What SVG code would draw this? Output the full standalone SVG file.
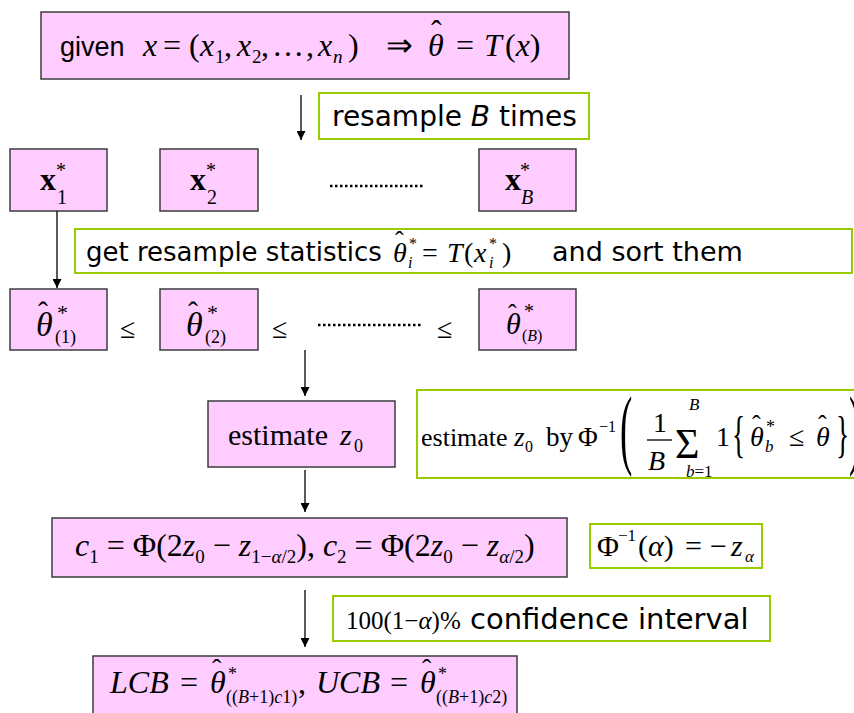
<svg xmlns="http://www.w3.org/2000/svg" width="854" height="713" viewBox="0 0 854 713">
<style>
.node{fill:#FFCCFF;stroke:#3c3c3c;stroke-width:1.5}
.note{fill:#FFFFFF;stroke:#99CC00;stroke-width:2}
.m{font-family:"Liberation Serif","Times New Roman",serif;fill:#000}
.i{font-style:italic}
.b{font-weight:bold}
.s{font-family:"DejaVu Sans",Verdana,sans-serif;fill:#000}
.a{font-family:"Liberation Sans",Arial,sans-serif;fill:#000}
.conn line{stroke:#000;stroke-width:1.3;marker-end:url(#ah)}
.dots{stroke:#000;stroke-width:2.5;stroke-dasharray:2.5 2.5}
</style>
<defs>
<marker id="ah" viewBox="0 0 10 10" refX="10" refY="5" markerWidth="10" markerHeight="9" markerUnits="userSpaceOnUse" orient="auto"><path d="M0,0 L10,5 L0,10 z" fill="#000"/></marker>
</defs>
<rect width="854" height="713" fill="#fff"/>

<g id="given">
<rect class="node" x="41" y="12" width="528" height="67"/>
<text class="a" x="60" y="56" font-size="27">given</text>
<g class="m" font-size="32">
<text class="i" x="143" y="56">x</text>
<text x="163" y="56">=</text>
<text x="189" y="56">(</text>
<text class="i" x="200" y="56">x</text>
<text x="215" y="63" font-size="19">1</text>
<text x="224" y="56">,</text>
<text class="i" x="237" y="56">x</text>
<text x="252" y="63" font-size="19">2</text>
<text x="261" y="56">,</text>
<text x="272" y="56">…</text>
<text x="306" y="56">,</text>
<text class="i" x="318" y="56">x</text>
<text class="i" x="333" y="63" font-size="19">n</text>
<text x="348" y="56">)</text>
<text x="386" y="56">⇒</text>
<text class="i" x="428" y="56">θ</text>
<text x="431" y="42">ˆ</text>
<text x="456" y="56">=</text>
<text class="i" x="484" y="56">T</text>
<text x="505" y="56">(<tspan class="i">x</tspan>)</text>
</g>
</g>

<g id="resample-note">
<rect class="note" x="319" y="93" width="270" height="46"/>
<text class="s" x="332" y="126" font-size="28">resample <tspan font-style="italic">B</tspan> times</text>
</g>

<g id="x1">
<rect class="node" x="10" y="149" width="97" height="62"/>
<text class="m b" x="40" y="190" font-size="32">x</text>
<text class="m" x="57" y="204" font-size="20">1</text>
<text class="m" x="56" y="177" font-size="20">*</text>
</g>
<g id="x2">
<rect class="node" x="160" y="149" width="98" height="62"/>
<text class="m b" x="190" y="190" font-size="32">x</text>
<text class="m" x="207" y="204" font-size="20">2</text>
<text class="m" x="206" y="177" font-size="20">*</text>
</g>
<line class="dots" x1="330" y1="186" x2="425" y2="186"/>
<g id="xB">
<rect class="node" x="479" y="149" width="97" height="62"/>
<text class="m b" x="505" y="190" font-size="32">x</text>
<text class="m i" x="521" y="204" font-size="20">B</text>
<text class="m" x="520" y="177" font-size="20">*</text>
</g>

<g id="stats-note">
<rect class="note" x="75" y="229" width="777" height="44"/>
<text class="s" x="86" y="261" font-size="26">get resample statistics</text>
<text class="m i" x="393" y="262" font-size="28">θ</text>
<text class="m" x="395" y="249" font-size="26">ˆ</text>
<text class="m i" x="408" y="268" font-size="16">i</text>
<text class="m" x="409" y="249" font-size="16">*</text>
<text class="m" x="422" y="262" font-size="28">=</text>
<text class="m i" x="447" y="262" font-size="28">T</text>
<text class="m" x="464" y="262" font-size="28">(</text>
<text class="m i" x="474" y="262" font-size="28">x</text>
<text class="m i" x="489" y="268" font-size="16">i</text>
<text class="m" x="489" y="249" font-size="16">*</text>
<text class="m" x="502" y="262" font-size="28">)</text>
<text class="s" x="552" y="261" font-size="27">and sort them</text>
</g>

<g id="theta1">
<rect class="node" x="10" y="289" width="97" height="61"/>
<text class="m i" x="36" y="336" font-size="34">θ</text>
<text class="m" x="38" y="322" font-size="30">ˆ</text>
<text class="m" x="57" y="320" font-size="22">*</text>
<text class="m" x="55" y="343" font-size="18">(1)</text>
</g>
<text class="m" x="120" y="338" font-size="28">≤</text>
<g id="theta2">
<rect class="node" x="160" y="289" width="98" height="61"/>
<text class="m i" x="186" y="336" font-size="34">θ</text>
<text class="m" x="188" y="322" font-size="30">ˆ</text>
<text class="m" x="207" y="320" font-size="22">*</text>
<text class="m" x="205" y="343" font-size="18">(2)</text>
</g>
<text class="m" x="272" y="338" font-size="28">≤</text>
<line class="dots" x1="318" y1="325" x2="423" y2="325"/>
<text class="m" x="437" y="338" font-size="28">≤</text>
<g id="thetaB">
<rect class="node" x="479" y="289" width="97" height="61"/>
<text class="m i" x="506" y="334" font-size="30">θ</text>
<text class="m" x="508" y="322" font-size="26">ˆ</text>
<text class="m" x="524" y="318" font-size="20">*</text>
<text class="m" x="522" y="341" font-size="16">(<tspan class="i">B</tspan>)</text>
</g>

<g id="estimate-z0">
<rect class="node" x="208" y="401" width="187" height="66"/>
<text class="m" x="228" y="445" font-size="30">estimate</text>
<text class="m i" x="340" y="445" font-size="30">z</text>
<text class="m" x="354" y="452" font-size="18">0</text>
</g>

<g id="z0-note">
<rect class="note" x="417" y="390" width="450" height="88"/>
<text class="m" x="421" y="446" font-size="26">estimate</text>
<text class="m i" x="514" y="446" font-size="27">z</text>
<text class="m" x="525" y="452" font-size="16">0</text>
<text class="m" x="546" y="446" font-size="27">by</text>
<text class="m" x="578" y="446" font-size="27">Φ</text>
<text class="m" x="599" y="432" font-size="16">−1</text>
<text class="m" transform="translate(620,458) scale(0.42,1)" font-size="88">(</text>
<text class="m" x="653" y="432" font-size="28">1</text>
<line x1="647" y1="440" x2="672" y2="440" stroke="#000" stroke-width="1.3"/>
<text class="m i" x="648" y="470" font-size="28">B</text>
<text class="m" x="675" y="458" font-size="42">Σ</text>
<text class="m i" x="689" y="410" font-size="17">B</text>
<text class="m" x="686" y="477" font-size="17"><tspan class="i">b</tspan>=1</text>
<text class="m" x="716" y="446" font-size="28">1</text>
<text class="m" transform="translate(732,451) scale(0.55,1)" font-size="50">{</text>
<text class="m i" x="750" y="446" font-size="28">θ</text>
<text class="m" x="752" y="433" font-size="26">ˆ</text>
<text class="m i" x="765" y="452" font-size="17">b</text>
<text class="m" x="766" y="433" font-size="18">*</text>
<text class="m" x="789" y="446" font-size="28">≤</text>
<text class="m i" x="816" y="446" font-size="28">θ</text>
<text class="m" x="818" y="433" font-size="26">ˆ</text>
<text class="m" transform="translate(836,451) scale(0.55,1)" font-size="50">}</text>
<text class="m" transform="translate(849,458) scale(0.42,1)" font-size="88">)</text>
</g>

<g id="c1c2">
<rect class="node" x="52" y="518" width="515" height="59"/>
<text class="m" x="75" y="556" font-size="32"><tspan class="i">c</tspan><tspan font-size="19" dy="7">1</tspan><tspan dy="-7"> = Φ(2</tspan><tspan class="i">z</tspan><tspan font-size="19" dy="7">0</tspan><tspan dy="-7"> − </tspan><tspan class="i">z</tspan><tspan font-size="19" dy="7">1−</tspan><tspan font-size="19" class="i">α</tspan><tspan font-size="19">/2</tspan><tspan dy="-7">), </tspan><tspan class="i">c</tspan><tspan font-size="19" dy="7">2</tspan><tspan dy="-7"> = Φ(2</tspan><tspan class="i">z</tspan><tspan font-size="19" dy="7">0</tspan><tspan dy="-7"> − </tspan><tspan class="i">z</tspan><tspan font-size="19" dy="7" class="i">α</tspan><tspan font-size="19">/2</tspan><tspan dy="-7">)</tspan></text>
</g>

<g id="phi-note">
<rect class="note" x="590" y="524" width="172" height="44"/>
<g class="m" font-size="30">
<text x="597" y="556">Φ</text>
<text x="618" y="541" font-size="17">−1</text>
<text x="638" y="556">(<tspan class="i">α</tspan>)</text>
<text x="685" y="556">=</text>
<text x="710" y="556">−</text>
<text class="i" x="731" y="556">z</text>
<text class="i" x="745" y="562" font-size="17">α</text>
</g>
</g>

<g id="ci-note">
<rect class="note" x="333" y="596" width="437" height="45"/>
<text class="m" x="346" y="629" font-size="25">100(1−<tspan class="i">α</tspan>)%</text>
<text class="s" x="470" y="629" font-size="29">confidence interval</text>
</g>

<g id="lcb-ucb">
<rect class="node" x="93" y="656" width="424" height="65"/>
<text class="m i" x="110" y="693" font-size="32">LCB</text>
<text class="m" x="180" y="693" font-size="32">=</text>
<text class="m i" x="210" y="693" font-size="32">θ</text>
<text class="m" x="212" y="678" font-size="28">ˆ</text>
<text class="m" x="228" y="680" font-size="18">*</text>
<text class="m" x="226" y="703" font-size="18">((<tspan class="i">B</tspan>+1)<tspan class="i">c</tspan>1)</text>
<text class="m" x="298" y="693" font-size="32">,</text>
<text class="m i" x="316" y="693" font-size="32">UCB</text>
<text class="m" x="390" y="693" font-size="32">=</text>
<text class="m i" x="420" y="693" font-size="32">θ</text>
<text class="m" x="422" y="678" font-size="28">ˆ</text>
<text class="m" x="438" y="680" font-size="18">*</text>
<text class="m" x="436" y="703" font-size="18">((<tspan class="i">B</tspan>+1)<tspan class="i">c</tspan>2)</text>
</g>

<g class="conn">
<line x1="301" y1="95" x2="301" y2="140"/>
<line x1="57" y1="211" x2="57" y2="288"/>
<line x1="305" y1="350" x2="305" y2="396"/>
<line x1="305" y1="470" x2="305" y2="512"/>
<line x1="305" y1="590" x2="305" y2="647"/>
</g>
</svg>
